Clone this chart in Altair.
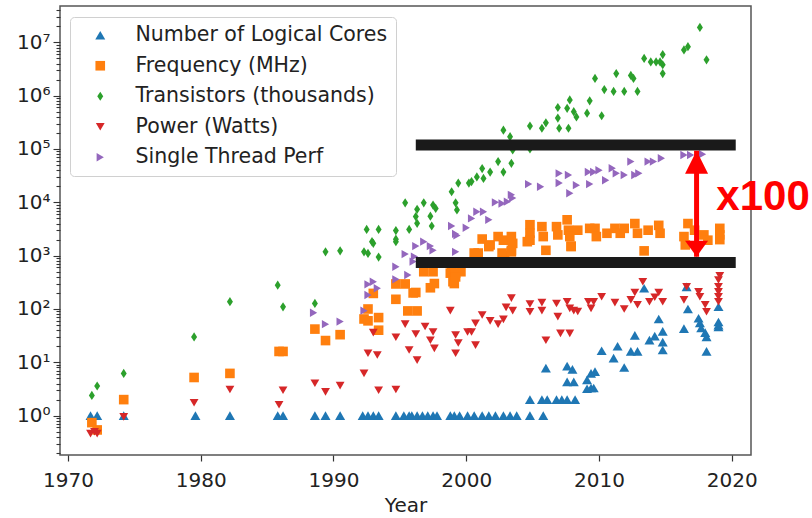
import altair as alt
import pandas as pd

SERIES = ["Number of Logical Cores", "Frequency (MHz)", "Transistors (thousands)",
          "Power (Watts)", "Single Thread Perf"]
COLORS = ["#1f77b4", "#ff7f0e", "#2ca02c", "#d62728", "#9467bd"]
SHAPES = ["triangle-up", "square", "M0,-1L0.65,0L0,1L-0.65,0Z", "triangle-down", "triangle-right"]
SIZES = [100, 70, 160, 100, 100]

cores_year = [1971.7, 1972.2, 1974.2, 1979.6, 1982.2, 1985.8, 1986.2, 1988.6, 1989.4, 1990.5,
              1992.2, 1992.6, 1993.0, 1993.4, 1994.7, 1995.3, 1995.7, 1995.9, 1996.3, 1996.7,
              1997.1, 1997.5, 1997.8, 1998.8, 1999.1, 1999.5, 2000.1, 2000.6, 2001.2, 2001.7,
              2002.2, 2002.8, 2003.3, 2003.8, 2004.8, 2005.8,
              2004.8, 2005.7, 2006.1, 2006.8, 2007.2, 2007.6, 2008.2,
              2007.6, 2008.1, 2009.1, 2009.4, 2009.1, 2009.6, 2009.4,
              2006.0, 2007.6, 2008.0, 2009.7, 2010.2, 2011.4, 2011.1, 2011.9, 2012.4, 2012.9,
              2012.7, 2013.8, 2014.2, 2014.5, 2014.8, 2014.8, 2014.8, 2013.4, 2016.4, 2016.7,
              2016.6, 2017.5, 2017.6, 2017.7, 2018.0, 2018.1, 2018.1, 2019.0, 2019.0, 2019.0, 2019.0]
cores_val = [1, 1, 1, 1, 1, 1, 1, 1, 1, 1,
             1, 1, 1, 1, 1, 1, 1, 1, 1, 1,
             1, 1, 1, 1, 1, 1, 1, 1, 1, 1,
             1, 1, 1, 1, 1, 1,
             2, 2, 2, 2, 2, 2, 2,
             4.3, 4.3, 4.7, 3.3, 3.2, 3.3, 6.2,
             7.8, 8.5, 7.4, 6.7, 16.5, 20, 12, 8, 16, 16,
             32, 26, 31, 65, 38, 24, 17, 245, 43, 100,
             260, 67, 55, 44, 36, 30, 16, 110, 57, 46, 50]

freq_year = [1971.8, 1972.2, 1974.2, 1979.5, 1982.2, 1985.9, 1986.2, 1988.6, 1989.4, 1990.5,
             1992.3, 1992.6, 1992.6, 1993.0, 1993.4, 1993.4, 1994.7, 1994.7, 1995.4, 1995.6,
             1996.2, 1996.3, 1996.8, 1997.5, 1998.9, 1999.6, 1997.3, 1997.6, 1999.1, 1996.0,
             1998.8, 1999.2, 1999.0, 1999.2, 2000.9, 2001.8, 2002.9, 2003.4, 2006.0, 2004.6,
             2007.9, 2013.4, 2001.2, 2001.7, 2002.4, 2002.8, 2003.4, 2003.5, 2002.7, 2003.4,
             2000.6, 2004.8, 2004.8, 2004.8, 2005.7, 2005.8, 2006.8, 2006.9, 2007.6, 2007.7,
             2007.8, 2007.9, 2008.4, 2009.3, 2009.7, 2009.8, 2010.6, 2011.2, 2011.6, 2011.9,
             2012.7, 2012.9, 2013.7, 2014.5, 2014.6, 2016.4, 2016.7, 2016.5, 2017.2, 2017.9,
             2018.2, 2019.1, 2019.1, 2019.1]
freq_val = [0.74, 0.54, 2, 5.2, 6.2, 16, 16, 42, 25.6, 33,
            65, 100, 60, 196, 69, 40, 152, 295, 295, 92,
            204, 92, 500, 500, 540, 500, 250, 300, 300, 200,
            470, 470, 325, 400, 1120, 1590, 1000, 1260, 1260, 1830,
            1510, 1230, 2050, 1480, 2280, 1950, 2280, 1700, 1120, 1180,
            1120, 3800, 2630, 1950, 3500, 2280, 3500, 2450, 4700, 3000,
            2280, 1480, 3000, 3250, 3250, 2280, 2630, 3250, 2630, 3250,
            4000, 2630, 3000, 3700, 2630, 2280, 4000, 1590, 3000, 2450,
            1950, 3250, 2450, 2000]

trans_year = [1971.8, 1972.2, 1974.2, 1979.5, 1982.2, 1985.8, 1986.2, 1988.6, 1989.4, 1990.5,
              1992.3, 1992.6, 1993.0, 1993.4, 1992.5, 1993.4, 1992.9, 1994.7, 1994.7, 1994.7,
              1995.4, 1995.7, 1996.3, 1996.2, 1996.3, 1996.8, 1997.3, 1997.4, 1997.5, 1997.7,
              1998.9, 1999.2, 1999.3, 1999.4, 2000.2, 2000.4, 2000.8, 2001.2, 2001.3, 2001.8,
              2002.4, 2002.8, 2003.4, 2003.5, 2004.8, 2002.8, 2003.3, 2004.8, 2005.7, 2006.0,
              2006.9, 2006.9, 2007.0, 2007.8, 2007.6, 2008.1, 2008.3, 2007.7, 2009.3, 2009.1,
              2009.7, 2010.4, 2010.2, 2011.3, 2011.1, 2011.9, 2012.4, 2012.6, 2012.9, 2013.4,
              2013.9, 2014.3, 2014.6, 2014.8, 2014.8, 2014.8, 2016.4, 2016.7, 2017.6, 2018.1]
trans_val = [2.4, 3.6, 6.2, 30, 137, 280, 110, 127, 1180, 1230,
             1180, 1100, 1700, 940, 3100, 3100, 1830, 2950, 2040, 1830,
             9800, 3100, 7400, 5400, 4050, 9800, 5500, 3600, 8900, 7700,
             15800, 9800, 7200, 23000, 23000, 24500, 30000, 43000, 28000, 37000,
             58000, 37000, 54000, 96000, 100000, 225000, 170000, 270000, 245000, 310000,
             600000, 380000, 245000, 830000, 580000, 500000, 400000, 245000, 800000, 470000,
             2100000, 1300000, 420000, 2600000, 1200000, 1200000, 2400000, 2100000, 1200000, 5000000,
             4300000, 4300000, 4300000, 5900000, 3800000, 2600000, 7200000, 8300000, 19000000, 4700000]

power_year = [1971.7, 1972.2, 1972.0, 1974.2, 1979.5, 1982.2, 1985.9, 1986.2, 1988.6, 1989.4,
              1990.5, 1992.3, 1992.6, 1993.0, 1993.3, 1993.4, 1994.7, 1994.7, 1995.4, 1995.7,
              1996.2, 1996.3, 1996.9, 1997.5, 1997.3, 1997.6, 1998.8, 1999.2, 1999.4, 1999.2,
              2000.1, 2000.4, 2000.7, 2000.7, 2001.2, 2001.8, 2002.4, 2002.8, 2003.0, 2003.4,
              2003.5, 2004.8, 2004.8, 2005.7, 2005.7, 2006.0, 2006.8, 2006.9, 2007.1, 2007.6,
              2007.8, 2007.8, 2008.1, 2008.4, 2009.2, 2009.6, 2009.4, 2010.2, 2011.2, 2011.9,
              2012.4, 2012.7, 2012.9, 2013.8, 2014.2, 2014.5, 2014.8, 2013.3, 2016.4, 2016.6,
              2017.5, 2017.6, 2018.0, 2018.1, 2019.0, 2019.0, 2019.0, 2019.0, 2019.0, 2019.1]
power_val = [0.46, 0.46, 0.5, 0.95, 1.75, 3.1, 1.6, 3.0, 4.05, 2.8,
             3.65, 6.2, 14.8, 36, 13.7, 3.0, 3.1, 29.5, 52, 17,
             34, 11, 47, 37, 26, 18.3, 93, 32.5, 23, 14.8,
             37, 37, 54, 21, 77, 60, 52, 64, 107, 160,
             93, 124, 89, 132, 93, 26, 127, 72, 35, 137,
             103, 35, 93, 90, 137, 137, 103, 170, 132, 100,
             148, 204, 120, 137, 166, 204, 137, 325, 148, 262,
             210, 170, 120, 89, 262, 210, 170, 137, 350, 420]

stp_year = [1988.5, 1989.4, 1990.5, 1992.3, 1992.6, 1992.6, 1993.0, 1993.3, 1994.7, 1994.7,
            1995.4, 1995.6, 1996.0, 1996.2, 1996.1, 1996.8, 1997.3, 1997.5, 1998.9, 1999.2,
            1999.3, 1999.2, 2000.0, 2000.4, 2000.8, 2001.3, 2001.7, 2002.2, 2002.7, 2003.1,
            2003.4, 2003.5, 2004.7, 2005.6, 2007.0, 2007.0, 2007.7, 2007.8, 2008.3, 2009.2,
            2009.6, 2010.0, 2009.3, 2010.5, 2011.0, 2011.3, 2011.9, 2012.4, 2012.7, 2013.0,
            2013.7, 2014.1, 2014.7, 2016.4, 2016.9, 2017.8]
stp_val = [85, 52, 58, 93, 183, 290, 325, 245, 620, 360,
           1070, 435, 775, 1510, 960, 1830, 1510, 1260, 3600, 2560,
           2400, 1180, 3330, 5000, 6650, 6650, 4700, 10000, 9500, 10300,
           13800, 12000, 22000, 19600, 35000, 23000, 32500, 14800, 21000, 37000,
           37000, 40000, 22000, 26000, 43500, 35000, 32500, 58000, 32500, 35000,
           58000, 58000, 67000, 77000, 77000, 80000]

# annotation values (data units)
BAR_YEARS = [1996.2, 2020.3]
BAR_LEVELS = [1.19e5, 745]
ARROW_YEAR = 2017.35
ARROW_TOP = 9.3e4
ARROW_BOTTOM = 955
LABEL_POS = (2018.84, 12600)
LABEL_TEXT = "x100"

X_TICKS = [1970, 1980, 1990, 2000, 2010, 2020]
Y_MAJOR = [1, 10, 100, 1000, 10000, 100000, 1000000, 10000000]
Y_MINOR_MULT = [2, 3, 4, 5, 6, 7, 8, 9]
Y_TICKS = [0.2, 0.3, 0.4, 0.5, 0.6, 0.7, 0.8, 0.9] + [m * y for y in Y_MAJOR for m in [1] + Y_MINOR_MULT]
Y_TICKS = [t for t in Y_TICKS if t <= 4.8e7]
X_DOMAIN = [1969.4, 2021.45]
Y_DOMAIN = [0.183, 4.8e7]

rows = []
for name, ys, vs in [(SERIES[0], cores_year, cores_val), (SERIES[1], freq_year, freq_val),
                     (SERIES[2], trans_year, trans_val), (SERIES[3], power_year, power_val),
                     (SERIES[4], stp_year, stp_val)]:
    for y, v in zip(ys, vs):
        rows.append({"series": name, "year": y, "value": v})
df = pd.DataFrame(rows)

xscale = alt.Scale(domain=X_DOMAIN, nice=False, zero=False)
yscale = alt.Scale(type="log", domain=Y_DOMAIN, nice=False)

is_major = "abs(log(datum.value)/LN10 - round(log(datum.value)/LN10)) < 0.01"
label_expr = (is_major + " ? '10' + ['⁰','¹','²','³','⁴','⁵','⁶','⁷'][round(log(datum.value)/LN10)] : ''")

x_enc = alt.X("year:Q", scale=xscale,
              axis=alt.Axis(values=X_TICKS, format="d", title="Year", grid=False, domain=False,
                            labelFontSize=20, titleFontSize=20, tickSize=6, labelPadding=9,
                            titlePadding=5, labelFlush=False, labelOverlap=False,
                            tickColor="#333", tickWidth=1.2, labelColor="#222", titleColor="#222",
                            titleFontWeight="normal"))
y_enc = alt.Y("value:Q", scale=yscale,
              axis=alt.Axis(values=Y_TICKS, labelExpr=label_expr, title=None, grid=False,
                            domain=False, labelFontSize=20, labelPadding=3, labelFlush=False,
                            labelOverlap=False,
                            tickSize={"condition": {"test": is_major, "value": 7}, "value": 4},
                            tickColor="#333", tickWidth=1.1, labelColor="#222"))

legend = alt.Legend(title=None, orient="none", legendX=10, legendY=11,
                    fillColor="white", strokeColor="#d0d0d0", cornerRadius=4,
                    padding=8, labelFontSize=20.5, labelColor="#222", labelLimit=0,
                    symbolSize=90, rowPadding=9.5, symbolOffset=12,
                    labelOffset=25, symbolStrokeWidth=0)

points = alt.Chart(df).mark_point(filled=True, opacity=1, strokeWidth=0).encode(
    x=x_enc,
    y=y_enc,
    color=alt.Color("series:N", sort=SERIES, scale=alt.Scale(domain=SERIES, range=COLORS),
                    legend=legend),
    shape=alt.Shape("series:N", sort=SERIES, scale=alt.Scale(domain=SERIES, range=SHAPES),
                    legend=legend),
    size=alt.Size("series:N", scale=alt.Scale(domain=SERIES, range=SIZES), legend=None),
)

bars_df = pd.DataFrame({"x": [BAR_YEARS[0]] * 2, "x2": [BAR_YEARS[1]] * 2, "y": BAR_LEVELS})
bars = alt.Chart(bars_df).mark_rule(color="#1a1a1a", strokeWidth=11, strokeCap="butt").encode(
    x=alt.X("x:Q", scale=xscale), x2="x2:Q", y=alt.Y("y:Q", scale=yscale))

shaft_df = pd.DataFrame({"x": [ARROW_YEAR], "y": [ARROW_TOP], "y2": [ARROW_BOTTOM]})
shaft = alt.Chart(shaft_df).mark_rule(color="#ff0000", strokeWidth=5, strokeCap="butt").encode(
    x=alt.X("x:Q", scale=xscale), y=alt.Y("y:Q", scale=yscale), y2="y2:Q")

head_top = alt.Chart(pd.DataFrame({"x": [ARROW_YEAR], "y": [ARROW_TOP]})).mark_point(
    shape="M0,0L1,2L-1,2Z", size=529, filled=True, color="#ff0000", opacity=1, strokeWidth=0
).encode(x=alt.X("x:Q", scale=xscale), y=alt.Y("y:Q", scale=yscale))

head_bot = alt.Chart(pd.DataFrame({"x": [ARROW_YEAR], "y": [ARROW_BOTTOM]})).mark_point(
    shape="M0,0L1,-1.4L-1,-1.4Z", size=529, filled=True, color="#ff0000", opacity=1, strokeWidth=0
).encode(x=alt.X("x:Q", scale=xscale), y=alt.Y("y:Q", scale=yscale))

label = alt.Chart(pd.DataFrame({"x": [LABEL_POS[0]], "y": [LABEL_POS[1]], "t": [LABEL_TEXT]})).mark_text(
    align="left", baseline="middle", font="Liberation Sans", fontWeight="bold", fontSize=42,
    color="#ff0000"
).encode(x=alt.X("x:Q", scale=xscale), y=alt.Y("y:Q", scale=yscale), text="t:N")

chart = alt.layer(points, bars, shaft, head_top, head_bot, label).properties(
    width=691, height=449,
    autosize=alt.AutoSizeParams(type="none"),
    padding={"left": 60, "top": 6, "right": 61, "bottom": 63},
).configure(font="DejaVu Sans").configure_view(stroke="#555", strokeWidth=1.5)

chart.save("out.html", embed_options={"renderer": "svg", "actions": False})
